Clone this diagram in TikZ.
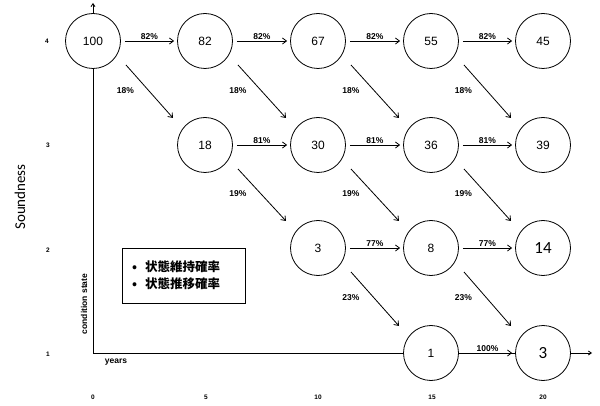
\documentclass[tikz,border=0pt]{standalone}
\usepackage{fontspec}
\setmainfont{Liberation Sans}
\newfontfamily\cjk{Noto Sans CJK JP}
\newfontfamily\calib{Carlito}
\usetikzlibrary{arrows.meta}
\begin{document}
\begin{tikzpicture}[x=1pt,y=-1pt,
  st/.style={circle,draw,thick,fill=white,minimum size=55pt,inner sep=0pt,font=\fontsize{12}{14}\selectfont},
  stb/.style={st,font=\calib\fontsize{17}{19}\selectfont},
  arr/.style={thick,-{Straight Barb[length=4pt,width=6pt]}},
  pl/.style={font=\fontsize{8.5}{10}\selectfont\bfseries,inner sep=1pt},
  tick/.style={font=\fontsize{6.5}{8}\selectfont\bfseries,inner sep=0pt},
  ax/.style={thick,-{Straight Barb[length=3pt,width=4pt]}}]
\useasboundingbox (0,0) rectangle (600,406);
% axes
\coordinate (o) at (93,353);
\coordinate (ytop) at (93,3);
\coordinate (xend) at (592,353);
\draw[ax] (o) -- (ytop);
\draw[ax] (o) -- (xend);
% nodes
\node[st] (a1) at (93,41) {100};
\node[st] (a2) at (205,41) {82};
\node[st] (a3) at (318,41) {67};
\node[st] (a4) at (431,41) {55};
\node[st] (a5) at (543,41) {45};
\node[st] (b2) at (205,145) {18};
\node[st] (b3) at (318,145) {30};
\node[st] (b4) at (431,145) {36};
\node[st] (b5) at (543,145) {39};
\node[st] (c3) at (318,248) {3};
\node[st] (c4) at (431,248) {8};
\node[stb] (c5) at (543,248) {14};
\node[st] (d4) at (431,353) {1};
\node[stb] (d5) at (543,353) {3};
% horizontal arrows
\foreach \p/\q/\t in {a1/a2/82\%,a2/a3/82\%,a3/a4/82\%,a4/a5/82\%,
                      b2/b3/81\%,b3/b4/81\%,b4/b5/81\%,
                      c3/c4/77\%,c4/c5/77\%,d4/d5/100\%}{
  \draw[arr] ([xshift=4pt]\p.east) -- node[pl,above] {\t} ([xshift=-3pt]\q.west);
}
% diagonal arrows
\foreach \p/\q/\t in {a1/b2/18\%,a2/b3/18\%,a3/b4/18\%,a4/b5/18\%,
                      b2/c3/19\%,b3/c4/19\%,b4/c5/19\%,
                      c3/d4/23\%,c4/d5/23\%}{
  \draw[arr] ([shift={(33pt,-24pt)}]\p.center) -- node[pl,pos=0.5,xshift=-24pt,yshift=1pt] {\t} ([shift={(-32pt,27pt)}]\q.center);
}
% axis labels
\node[tick] (t4) at (47,41) {4};
\node[tick] (t3) at (48,145) {3};
\node[tick] (t2) at (48,250) {2};
\node[tick] (t1) at (48,354) {1};
\node[tick] (x0) at (93,397) {0};
\node[tick] (x5) at (206,397) {5};
\node[tick] (x10) at (318,397) {10};
\node[tick] (x15) at (432,397) {15};
\node[tick] (x20) at (543,397) {20};
\node[rotate=90,font=\calib\fontsize{15}{17}\selectfont] (snd) at (20,197) {Soundness};
\node[rotate=90,font=\fontsize{8.5}{10}\selectfont\bfseries,inner sep=0pt] (cs) at (84,304) {condition state};
\node[font=\fontsize{8.5}{10}\selectfont\bfseries,inner sep=0pt] (yr) at (116,362) {years};
% legend
\node[draw,thick,minimum width=123pt,minimum height=55pt,inner sep=0pt,anchor=north west] (lg) at (122,248) {};
\node[font=\cjk\fontsize{12.5}{14}\selectfont\bfseries,anchor=west,inner sep=0pt] (l1) at (132,267) {•\hspace{8pt}状態維持確率};
\node[font=\cjk\fontsize{12.5}{14}\selectfont\bfseries,anchor=west,inner sep=0pt] (l2) at (132,284) {•\hspace{8pt}状態推移確率};
\end{tikzpicture}
\end{document}
